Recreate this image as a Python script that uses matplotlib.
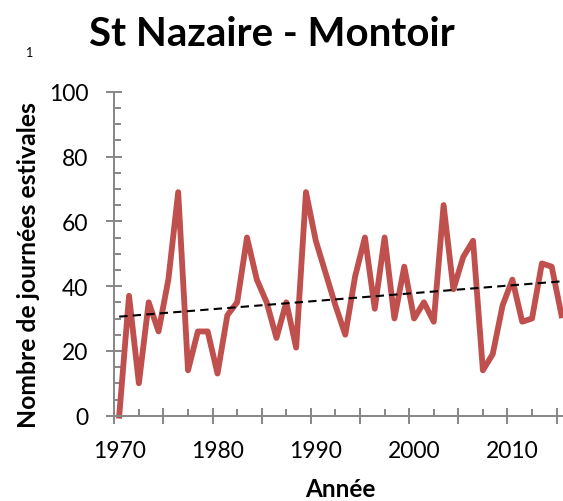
import matplotlib
matplotlib.use("Agg")
import matplotlib.pyplot as plt
import numpy as np

# Nombre de journees estivales, St Nazaire - Montoir ==========
years = np.arange(1970, 2016)
jours = [0, 37, 10, 35, 26, 42, 69, 14, 26, 26,
         13, 31, 35, 55, 42, 35, 24, 35, 21, 69,
         54, 44, 34, 25, 43, 55, 33, 55, 30, 46,
         30, 35, 29, 65, 39, 49, 54, 14, 19, 34,
         42, 29, 30, 47, 46, 31]
xlabels = [1970, 1980, 1990, 2000, 2010]
# end data ====================================================

plt.rcParams['font.family'] = ['Lato', 'DejaVu Sans']
grey = '#868686'

fig = plt.figure(figsize=(5.63, 5.02), dpi=100)
ax = fig.add_axes([114.3 / 563, 1 - 416.7 / 502,
                   1 - 114.3 / 563, (416.7 - 92.7) / 502])

ax.plot(years, jours, '-', color='#C0504D', lw=4.2,
        solid_joinstyle='round', clip_on=False)

# tendance lineaire (comme Excel)
p = np.polyfit(years, jours, 1)
ax.plot(years, np.polyval(p, years), '--', color='black', lw=1.5,
        dashes=(4, 2.5))

ax.set_xlim(1969.5, 2015.15)
ax.set_ylim(0, 100)

ax.set_xticks(np.arange(1969.5, 2016, 5))
ax.set_xticks(np.arange(1972, 2015, 5), minor=True)
ax.set_xticklabels([])
for yr in xlabels:
    ax.text(yr, -0.075, str(yr), transform=ax.get_xaxis_transform(),
            ha='center', va='top', fontsize=16.5)

ax.set_yticks(np.arange(0, 101, 20))
ax.set_yticks(np.arange(0, 101, 5), minor=True)
ax.set_yticklabels([str(v) for v in range(0, 101, 20)], fontsize=16.5)

ax.tick_params(which='major', direction='inout', length=11.5, width=1.4,
               color=grey, pad=13)
ax.tick_params(which='minor', direction='in', length=5, width=1.4,
               color=grey)

for s in ['top', 'right']:
    ax.spines[s].set_visible(False)
for s in ['left', 'bottom']:
    ax.spines[s].set_color(grey)
    ax.spines[s].set_linewidth(1.4)

fig.text(272 / 563, 1 - 35 / 502, 'St Nazaire - Montoir', ha='center',
         va='center', fontsize=29, fontweight='bold')
fig.text(30 / 563, 1 - 53 / 502, '1', ha='center', va='center', fontsize=9)
fig.text(340 / 563, 1 - 490 / 502, 'Année', ha='center', va='center',
         fontsize=17.5, fontweight='bold')
fig.text(29 / 563, 1 - 265 / 502, 'Nombre de journées estivales',
         ha='center', va='center', rotation=90, fontsize=17.8,
         fontweight='bold')

fig.savefig('out.png', dpi=100)
